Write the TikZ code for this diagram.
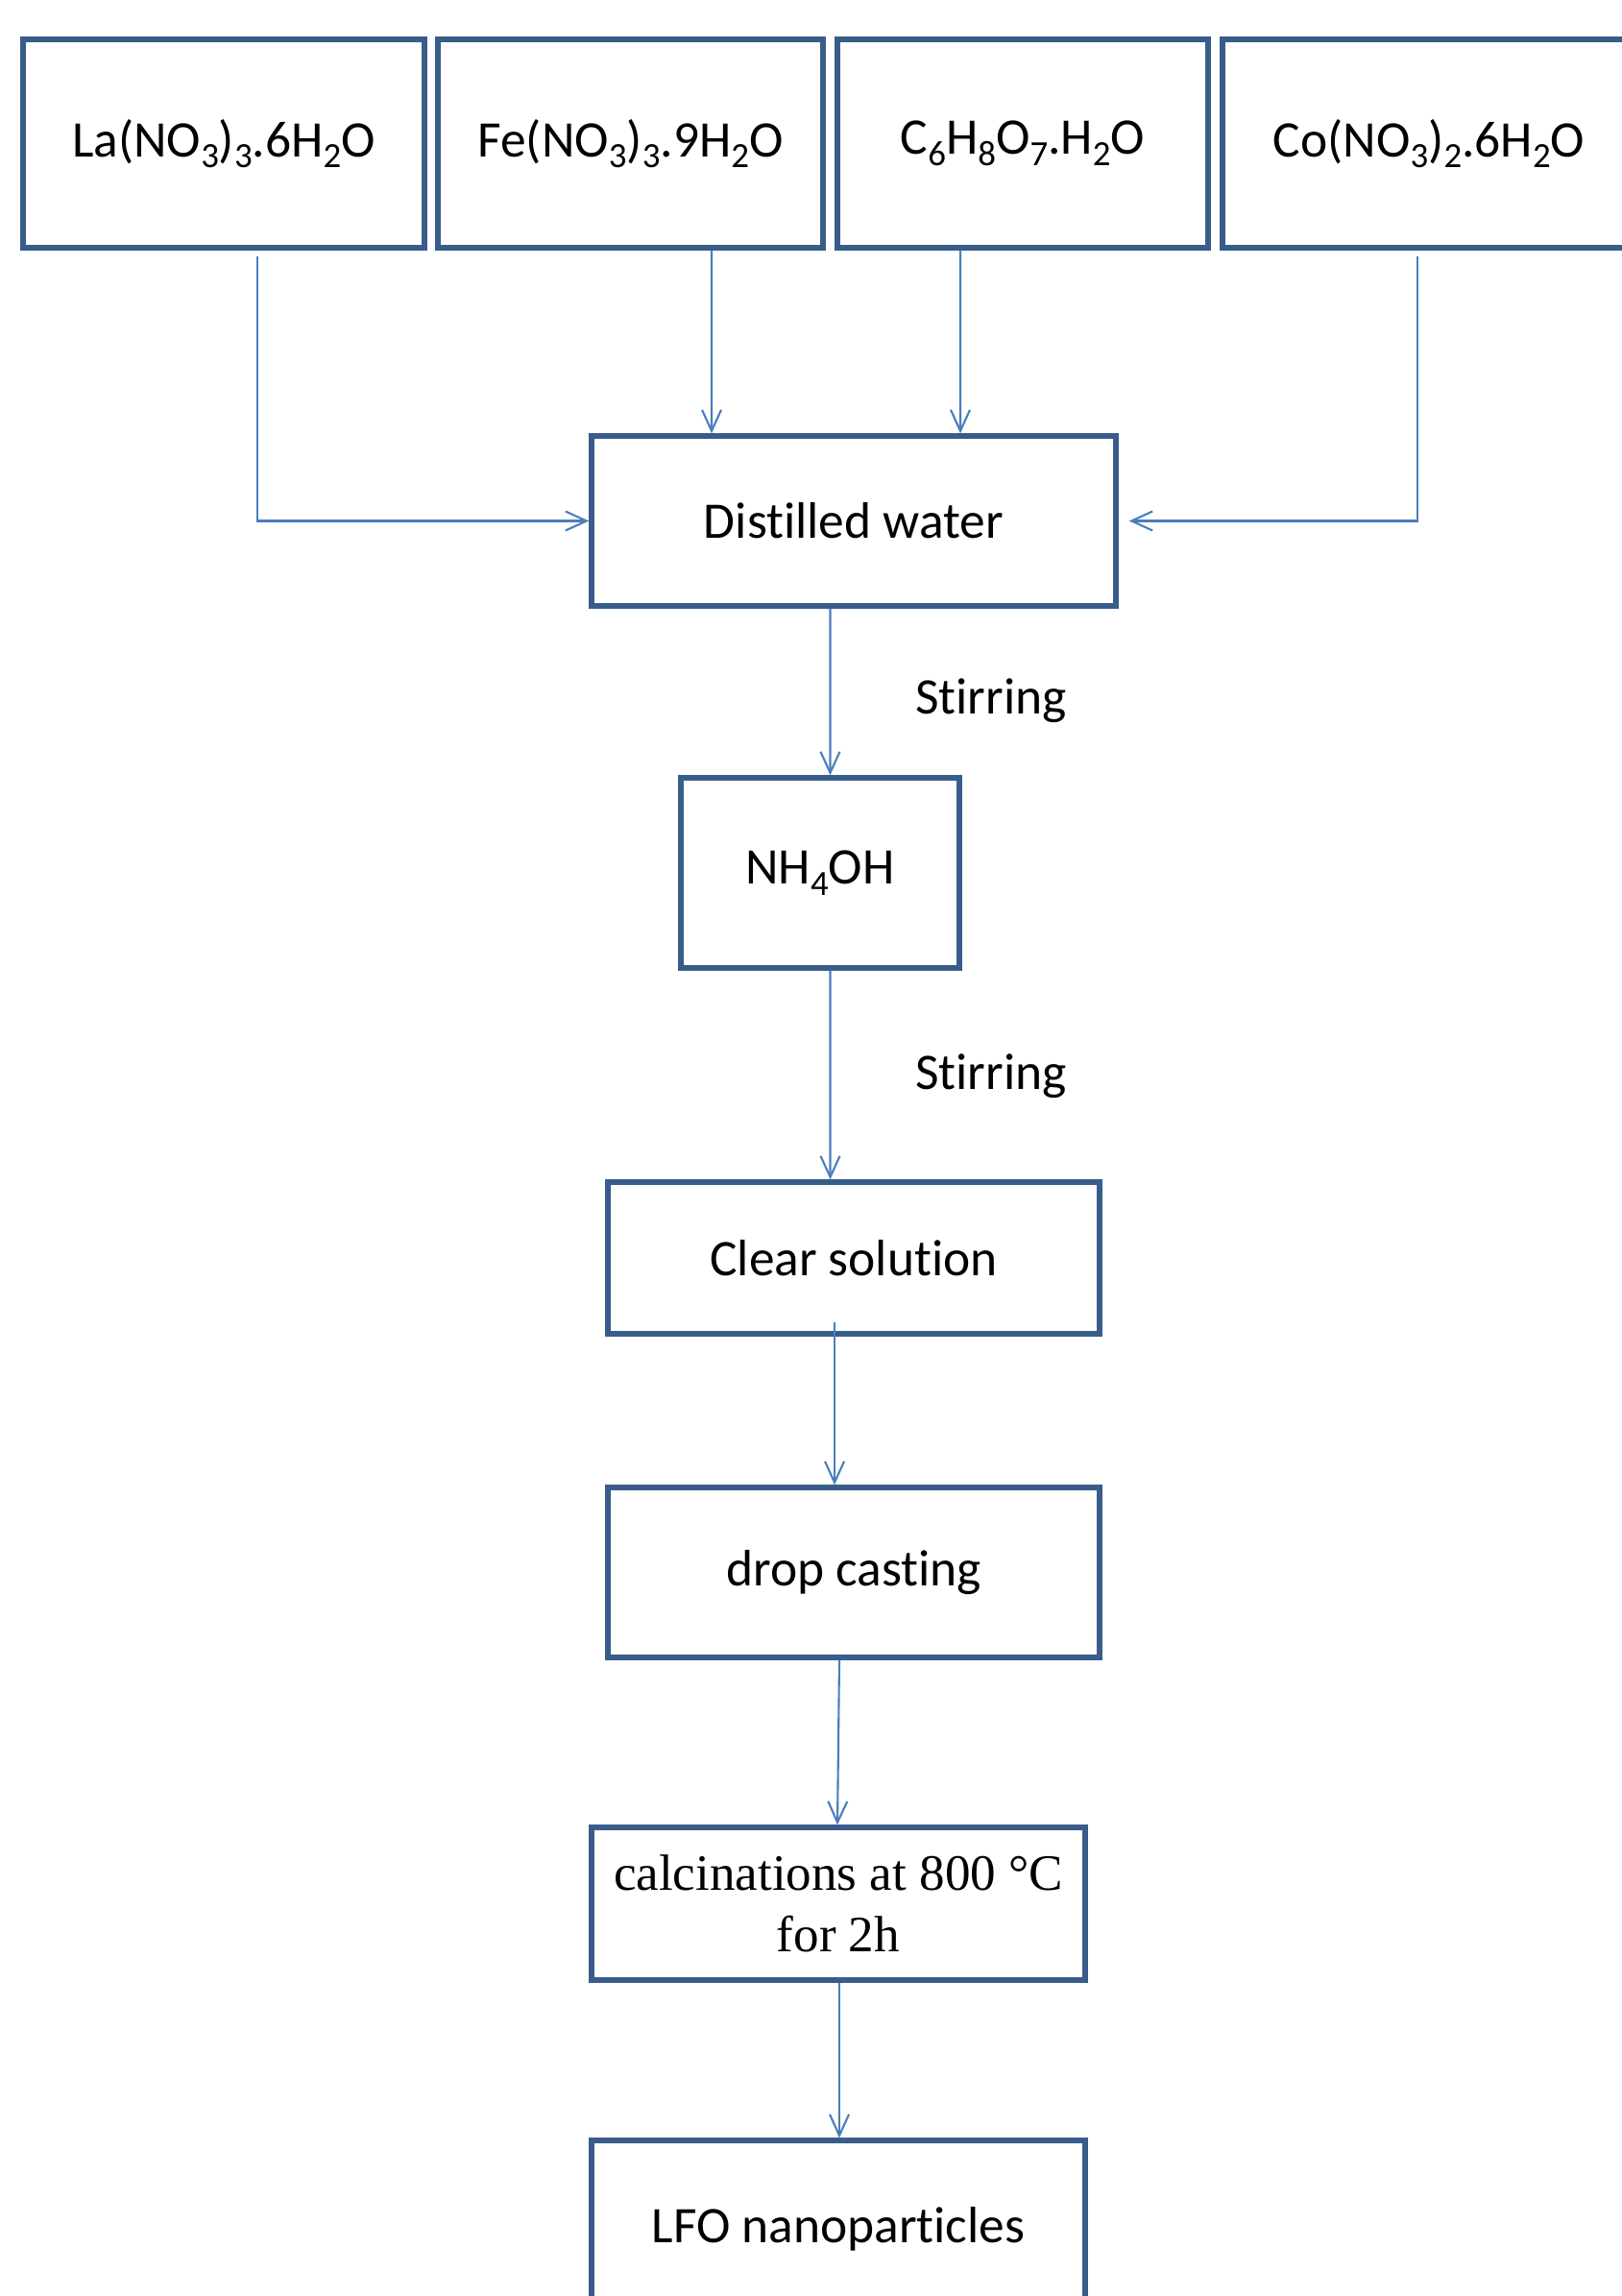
\documentclass[tikz,border=0pt]{standalone}
\usepackage{fontspec}
\setmainfont{Carlito}[Ligatures=NoCommon]
\newfontfamily\timesfont{Liberation Serif}
\usepackage{tikz}
\usetikzlibrary{arrows.meta}
\definecolor{boxblue}{RGB}{56,93,138}
\definecolor{lineblue}{RGB}{74,126,187}
\newcommand{\chemsub}[1]{\raisebox{-0.45ex}{\fontsize{10.5pt}{12pt}\selectfont #1}}
\tikzstyle{process} = [rectangle, draw=boxblue, line width=1.5pt, text centered, inner sep=0pt, font=\fontsize{15.2pt}{18pt}\selectfont]
\tikzstyle{stirtext} = [font=\fontsize{15.2pt}{18pt}\selectfont]
\tikzstyle{arrow} = [draw=lineblue, line width=0.6pt, -{Straight Barb[length=2.2mm,width=2mm]}]

\begin{document}
\begin{tikzpicture}[node distance=3.3cm]
    \useasboundingbox (0,0) rectangle (16.88,-23.91);
    \fill[white] (0,0) rectangle (16.88,-23.91);

    \node (la) [process, minimum width=4.18cm, minimum height=2.17cm] at (2.33,-1.495) {La(NO\chemsub{3})\chemsub{3}.6H\chemsub{2}O};
    \node (fe) [process, right of=la, xshift=0.935cm, minimum width=4.01cm, minimum height=2.17cm] {Fe(NO\chemsub{3})\chemsub{3}.9H\chemsub{2}O};
    \node (cit) [process, right of=fe, xshift=0.785cm, minimum width=3.86cm, minimum height=2.17cm] {C\chemsub{6}H\chemsub{8}O\chemsub{7}.H\chemsub{2}O};
    \node (co) [process, right of=cit, xshift=0.93cm, minimum width=4.30cm, minimum height=2.17cm] {Co(NO\chemsub{3})\chemsub{2}.6H\chemsub{2}O};

    \node (dw) [process, minimum width=5.46cm, minimum height=1.77cm] at (8.89,-5.425) {Distilled water};
    \node (nh) [process, below of=dw, xshift=-0.35cm, yshift=-0.365cm, minimum width=2.90cm, minimum height=1.98cm] {NH\chemsub{4}OH};
    \node (clear) [process, below of=nh, xshift=0.35cm, yshift=-0.71cm, minimum width=5.12cm, minimum height=1.58cm] {Clear solution};
    \node (drop) [process, below of=clear, yshift=0.025cm, minimum width=5.12cm, minimum height=1.77cm] {drop casting};
    \node (calc) [process, below of=drop, xshift=-0.16cm, yshift=-0.15cm, minimum width=5.14cm, minimum height=1.59cm, align=center, font=\fontsize{15.1pt}{18.2pt}\timesfont] {calcinations at 800 °C\\for 2h};
    \node (lfo) [process, below of=calc, yshift=-0.085cm, minimum width=5.14cm, minimum height=1.84cm] {LFO nanoparticles};

    \node (stir1) [stirtext] at (10.32,-7.30) {Stirring};
    \node (stir2) [stirtext] at (10.32,-11.21) {Stirring};

    \draw[arrow] ([xshift=0.35cm,yshift=-0.06cm]la.south) |- (dw.west);
    \draw[arrow] ([xshift=0.845cm]fe.south) -- ([xshift=-1.48cm]dw.north);
    \draw[arrow] ([xshift=-0.65cm]cit.south) -- ([xshift=1.11cm]dw.north);
    \draw[arrow] ([xshift=-0.12cm,yshift=-0.06cm]co.south) |- ([xshift=0.11cm]dw.east);
    \draw[arrow] ([xshift=-0.245cm]dw.south) -- ([xshift=0.105cm]nh.north);
    \draw[arrow] ([xshift=0.105cm]nh.south) -- ([xshift=-0.245cm]clear.north);
    \draw[arrow] ([xshift=-0.2cm,yshift=0.15cm]clear.south) -- ([xshift=-0.2cm]drop.north);
    \draw[arrow] ([xshift=-0.15cm]drop.south) -- ([xshift=-0.01cm]calc.north);
    \draw[arrow] ([xshift=0.01cm]calc.south) -- ([xshift=0.01cm]lfo.north);
\end{tikzpicture}
\end{document}
